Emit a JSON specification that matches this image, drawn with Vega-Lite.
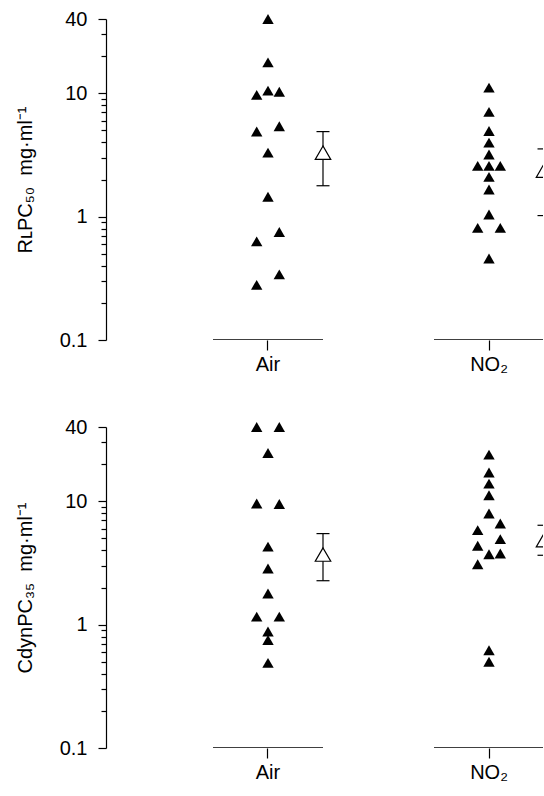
{
  "$schema": "https://vega.github.io/schema/vega-lite/v6.json",
  "padding": {"left": 15, "top": 9, "right": 0, "bottom": 0},
  "spacing": 43,
  "config": {
    "view": {"stroke": null},
    "font": "Liberation Sans",
    "axis": {"grid": false, "domainColor": "black", "domainWidth": 1.2, "tickColor": "black", "tickWidth": 1.2, "labelColor": "black", "labelFont": "Liberation Sans", "labelFontSize": 20, "titleFont": "Liberation Sans", "titleFontSize": 20, "titleFontWeight": "normal", "titleColor": "black"}
  },
  "datasets": {
    "points": [
      {"m": "RLPC", "g": "Air", "v": 40, "c": 0},
      {"m": "RLPC", "g": "Air", "v": 17.8, "c": 0},
      {"m": "RLPC", "g": "Air", "v": 9.7, "c": -1},
      {"m": "RLPC", "g": "Air", "v": 10.5, "c": 0},
      {"m": "RLPC", "g": "Air", "v": 10.3, "c": 1},
      {"m": "RLPC", "g": "Air", "v": 4.9, "c": -1},
      {"m": "RLPC", "g": "Air", "v": 5.4, "c": 1},
      {"m": "RLPC", "g": "Air", "v": 3.3, "c": 0},
      {"m": "RLPC", "g": "Air", "v": 1.45, "c": 0},
      {"m": "RLPC", "g": "Air", "v": 0.63, "c": -1},
      {"m": "RLPC", "g": "Air", "v": 0.75, "c": 1},
      {"m": "RLPC", "g": "Air", "v": 0.34, "c": 1},
      {"m": "RLPC", "g": "Air", "v": 0.28, "c": -1},
      {"m": "RLPC", "g": "NO₂", "v": 11.1, "c": 0},
      {"m": "RLPC", "g": "NO₂", "v": 7.07, "c": 0},
      {"m": "RLPC", "g": "NO₂", "v": 4.94, "c": 0},
      {"m": "RLPC", "g": "NO₂", "v": 3.98, "c": 0},
      {"m": "RLPC", "g": "NO₂", "v": 3.19, "c": 0},
      {"m": "RLPC", "g": "NO₂", "v": 2.58, "c": -1},
      {"m": "RLPC", "g": "NO₂", "v": 2.58, "c": 0},
      {"m": "RLPC", "g": "NO₂", "v": 2.58, "c": 1},
      {"m": "RLPC", "g": "NO₂", "v": 2.1, "c": 0},
      {"m": "RLPC", "g": "NO₂", "v": 1.66, "c": 0},
      {"m": "RLPC", "g": "NO₂", "v": 1.04, "c": 0},
      {"m": "RLPC", "g": "NO₂", "v": 0.81, "c": -1},
      {"m": "RLPC", "g": "NO₂", "v": 0.81, "c": 1},
      {"m": "RLPC", "g": "NO₂", "v": 0.458, "c": 0},
      {"m": "Cdyn", "g": "Air", "v": 40, "c": -1},
      {"m": "Cdyn", "g": "Air", "v": 40, "c": 1},
      {"m": "Cdyn", "g": "Air", "v": 24.6, "c": 0},
      {"m": "Cdyn", "g": "Air", "v": 9.6, "c": -1},
      {"m": "Cdyn", "g": "Air", "v": 9.5, "c": 1},
      {"m": "Cdyn", "g": "Air", "v": 4.29, "c": 0},
      {"m": "Cdyn", "g": "Air", "v": 2.85, "c": 0},
      {"m": "Cdyn", "g": "Air", "v": 1.79, "c": 0},
      {"m": "Cdyn", "g": "Air", "v": 1.16, "c": -1},
      {"m": "Cdyn", "g": "Air", "v": 1.16, "c": 1},
      {"m": "Cdyn", "g": "Air", "v": 0.88, "c": 0},
      {"m": "Cdyn", "g": "Air", "v": 0.75, "c": 0},
      {"m": "Cdyn", "g": "Air", "v": 0.49, "c": 0},
      {"m": "Cdyn", "g": "NO₂", "v": 23.9, "c": 0},
      {"m": "Cdyn", "g": "NO₂", "v": 17.1, "c": 0},
      {"m": "Cdyn", "g": "NO₂", "v": 13.9, "c": 0},
      {"m": "Cdyn", "g": "NO₂", "v": 11.2, "c": 0},
      {"m": "Cdyn", "g": "NO₂", "v": 7.96, "c": 0},
      {"m": "Cdyn", "g": "NO₂", "v": 6.6, "c": 1},
      {"m": "Cdyn", "g": "NO₂", "v": 5.84, "c": -1},
      {"m": "Cdyn", "g": "NO₂", "v": 4.93, "c": 1},
      {"m": "Cdyn", "g": "NO₂", "v": 4.36, "c": -1},
      {"m": "Cdyn", "g": "NO₂", "v": 3.72, "c": 0},
      {"m": "Cdyn", "g": "NO₂", "v": 3.77, "c": 1},
      {"m": "Cdyn", "g": "NO₂", "v": 3.09, "c": -1},
      {"m": "Cdyn", "g": "NO₂", "v": 0.62, "c": 0},
      {"m": "Cdyn", "g": "NO₂", "v": 0.5, "c": 0}
    ],
    "means": [
      {"m": "RLPC", "g": "Air", "mean": 3.3, "lo": 1.78, "hi": 4.89},
      {"m": "RLPC", "g": "NO₂", "mean": 2.36, "lo": 1.02, "hi": 3.54},
      {"m": "Cdyn", "g": "Air", "mean": 3.7, "lo": 2.27, "hi": 5.47},
      {"m": "Cdyn", "g": "NO₂", "mean": 4.83, "lo": 3.65, "hi": 6.39}
    ]
  },
  "vconcat": [
    {
      "width": 437,
      "height": 321,
      "resolve": {"axis": {"y": "independent"}},
      "encoding": {
        "x": {"field": "g", "type": "nominal", "title": null,
          "scale": {"domain": ["Air", "NO₂"], "range": [0, 545], "paddingInner": 0, "paddingOuter": 0.233},
          "axis": {"domain": false, "ticks": true, "tickSize": 10, "labelAngle": 0, "labelPadding": 4}}
      },
      "layer": [
        {
          "data": {"name": "means"},
          "transform": [{"filter": "datum.m == 'RLPC'"}],
          "mark": {"type": "tick", "size": 110, "thickness": 1.3, "color": "black", "opacity": 1, "clip": true},
          "encoding": {
            "y": {"datum": 0.1, "type": "quantitative",
              "scale": {"type": "log", "domain": [0.1, 40], "nice": false},
              "axis": {"orient": "left", "title": "RʟPC₅₀\u00a0\u00a0mg·ml⁻¹", "values": [0.1, 1, 10, 40], "format": "~g", "tickSize": 8,
                "labelPadding": 11, "labelBound": false, "labelOverlap": false, "titlePadding": 24}}
          }
        },
        {
          "data": {"name": "points"},
          "transform": [{"filter": "datum.m == 'RLPC'"}],
          "mark": {"type": "point", "shape": "triangle-up", "filled": true, "color": "black", "opacity": 1, "size": 130},
          "encoding": {
            "xOffset": {"field": "c", "type": "quantitative", "scale": {"domain": [-1, 1], "range": [99.2, 121.8]}},
            "y": {"field": "v", "type": "quantitative", "scale": {"type": "log", "domain": [0.1, 40], "nice": false},
              "axis": {"orient": "left", "values": [0.2, 0.3, 0.4, 0.5, 0.6, 0.7, 0.8, 0.9, 2, 3, 4, 5, 6, 7, 8, 9, 20, 30],
                "tickSize": 5, "labels": false, "domain": false, "title": null}}
          }
        },
        {
          "data": {"name": "means"},
          "transform": [{"filter": "datum.m == 'RLPC'"}],
          "mark": {"type": "rule", "xOffset": 55, "color": "black", "strokeWidth": 1.2, "clip": true},
          "encoding": {"y": {"field": "lo", "type": "quantitative", "axis": null}, "y2": {"field": "hi"}}
        },
        {
          "data": {"name": "means"},
          "transform": [{"filter": "datum.m == 'RLPC'"}],
          "mark": {"type": "tick", "xOffset": 55, "size": 13, "thickness": 1.2, "color": "black", "opacity": 1, "clip": true},
          "encoding": {"y": {"field": "lo", "type": "quantitative", "axis": null}}
        },
        {
          "data": {"name": "means"},
          "transform": [{"filter": "datum.m == 'RLPC'"}],
          "mark": {"type": "tick", "xOffset": 55, "size": 13, "thickness": 1.2, "color": "black", "opacity": 1, "clip": true},
          "encoding": {"y": {"field": "hi", "type": "quantitative", "axis": null}}
        },
        {
          "data": {"name": "means"},
          "transform": [{"filter": "datum.m == 'RLPC'"}],
          "mark": {"type": "point", "shape": "triangle-up", "filled": true, "fill": "white", "stroke": "black", "strokeWidth": 1.2, "opacity": 1, "size": 240, "xOffset": 55, "clip": true},
          "encoding": {"y": {"field": "mean", "type": "quantitative", "axis": null}}
        }
      ]
    },
    {
      "width": 437,
      "height": 321,
      "resolve": {"axis": {"y": "independent"}},
      "encoding": {
        "x": {"field": "g", "type": "nominal", "title": null,
          "scale": {"domain": ["Air", "NO₂"], "range": [0, 545], "paddingInner": 0, "paddingOuter": 0.233},
          "axis": {"domain": false, "ticks": true, "tickSize": 10, "labelAngle": 0, "labelPadding": 4}}
      },
      "layer": [
        {
          "data": {"name": "means"},
          "transform": [{"filter": "datum.m == 'Cdyn'"}],
          "mark": {"type": "tick", "size": 110, "thickness": 1.3, "color": "black", "opacity": 1, "clip": true},
          "encoding": {
            "y": {"datum": 0.1, "type": "quantitative",
              "scale": {"type": "log", "domain": [0.1, 40], "nice": false},
              "axis": {"orient": "left", "title": "CdynPC₃₅\u00a0\u00a0mg·ml⁻¹", "values": [0.1, 1, 10, 40], "format": "~g", "tickSize": 8,
                "labelPadding": 11, "labelBound": false, "labelOverlap": false, "titlePadding": 24}}
          }
        },
        {
          "data": {"name": "points"},
          "transform": [{"filter": "datum.m == 'Cdyn'"}],
          "mark": {"type": "point", "shape": "triangle-up", "filled": true, "color": "black", "opacity": 1, "size": 130},
          "encoding": {
            "xOffset": {"field": "c", "type": "quantitative", "scale": {"domain": [-1, 1], "range": [99.2, 121.8]}},
            "y": {"field": "v", "type": "quantitative", "scale": {"type": "log", "domain": [0.1, 40], "nice": false},
              "axis": {"orient": "left", "values": [0.2, 0.3, 0.4, 0.5, 0.6, 0.7, 0.8, 0.9, 2, 3, 4, 5, 6, 7, 8, 9, 20, 30],
                "tickSize": 5, "labels": false, "domain": false, "title": null}}
          }
        },
        {
          "data": {"name": "means"},
          "transform": [{"filter": "datum.m == 'Cdyn'"}],
          "mark": {"type": "rule", "xOffset": 55, "color": "black", "strokeWidth": 1.2, "clip": true},
          "encoding": {"y": {"field": "lo", "type": "quantitative", "axis": null}, "y2": {"field": "hi"}}
        },
        {
          "data": {"name": "means"},
          "transform": [{"filter": "datum.m == 'Cdyn'"}],
          "mark": {"type": "tick", "xOffset": 55, "size": 13, "thickness": 1.2, "color": "black", "opacity": 1, "clip": true},
          "encoding": {"y": {"field": "lo", "type": "quantitative", "axis": null}}
        },
        {
          "data": {"name": "means"},
          "transform": [{"filter": "datum.m == 'Cdyn'"}],
          "mark": {"type": "tick", "xOffset": 55, "size": 13, "thickness": 1.2, "color": "black", "opacity": 1, "clip": true},
          "encoding": {"y": {"field": "hi", "type": "quantitative", "axis": null}}
        },
        {
          "data": {"name": "means"},
          "transform": [{"filter": "datum.m == 'Cdyn'"}],
          "mark": {"type": "point", "shape": "triangle-up", "filled": true, "fill": "white", "stroke": "black", "strokeWidth": 1.2, "opacity": 1, "size": 240, "xOffset": 55, "clip": true},
          "encoding": {"y": {"field": "mean", "type": "quantitative", "axis": null}}
        }
      ]
    }
  ]
}
